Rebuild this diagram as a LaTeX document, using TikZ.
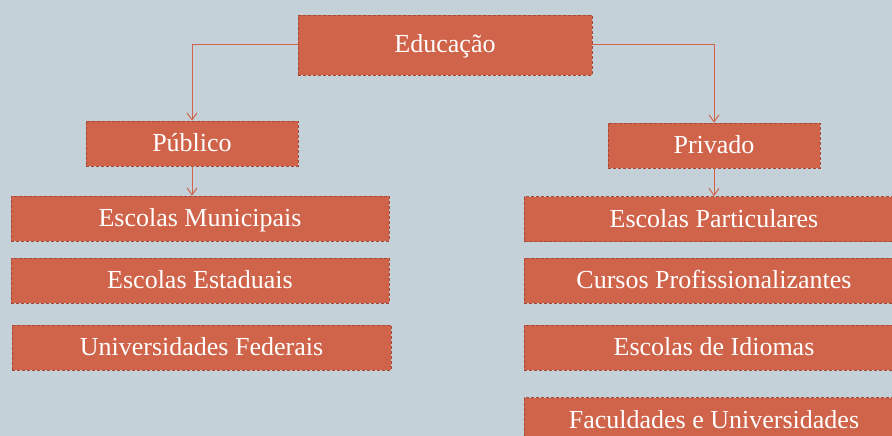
\documentclass[tikz,border=0pt]{standalone}
\usepackage{fontspec}
\setmainfont{Liberation Serif}
\usetikzlibrary{arrows.meta}
\definecolor{slate}{RGB}{197,209,216}
\definecolor{brick}{RGB}{208,100,74}
\definecolor{brickedge}{RGB}{165,72,56}
\tikzset{
	box/.style={fill=brick, draw=brickedge, densely dashed, line width=0.6pt,
		text=white, font=\fontsize{26}{30}\selectfont, inner sep=0pt,
		text height=19pt, text depth=3pt, minimum height=45pt},
	link/.style={draw=brick, line width=1pt, -{Straight Barb[length=7pt,width=10pt]}}
}
\begin{document}
\begin{tikzpicture}[x=1pt, y=-1pt]
		%%%%% START %%%%%
		\useasboundingbox (0, 0) rectangle (892, 436);
		\clip (0, 0) rectangle (892, 436);
		\fill[slate] (0, 0) rectangle (892, 436);
		
		\node[box, minimum width=294pt, minimum height=60pt] (edu) at (445, 45) {Educação};
		
		\node[box, minimum width=212pt] (pub) at (192, 143.5) {Público};
		\node[box, minimum width=212pt] (priv) at (714, 145.5) {Privado};
		
		\node[box, minimum width=378pt] (mun) at (200, 218.5) {Escolas Municipais};
		\node[box, minimum width=378pt] (est) at (200, 280.5) {Escolas Estaduais};
		\node[box, minimum width=379pt] (fed) at (201.5, 347.5) {Universidades Federais};
		
		\node[box, minimum width=380pt] (part) at (714, 219) {Escolas Particulares};
		\node[box, minimum width=380pt] (cur) at (714, 280.5) {Cursos Profissionalizantes};
		\node[box, minimum width=380pt] (idi) at (714, 347.5) {Escolas de Idiomas};
		\node[box, minimum width=380pt] (fac) at (714, 420) {Faculdades e Universidades};
		
		\draw[link] (edu.west) -| (pub.north);
		\draw[link] (edu.east) -| (priv.north);
		\draw[link] (pub.south) -- (pub.south |- mun.north);
		\draw[link] (priv.south) -- (priv.south |- part.north);
		%%%%% END %%%%%
	\end{tikzpicture}
\end{document}
